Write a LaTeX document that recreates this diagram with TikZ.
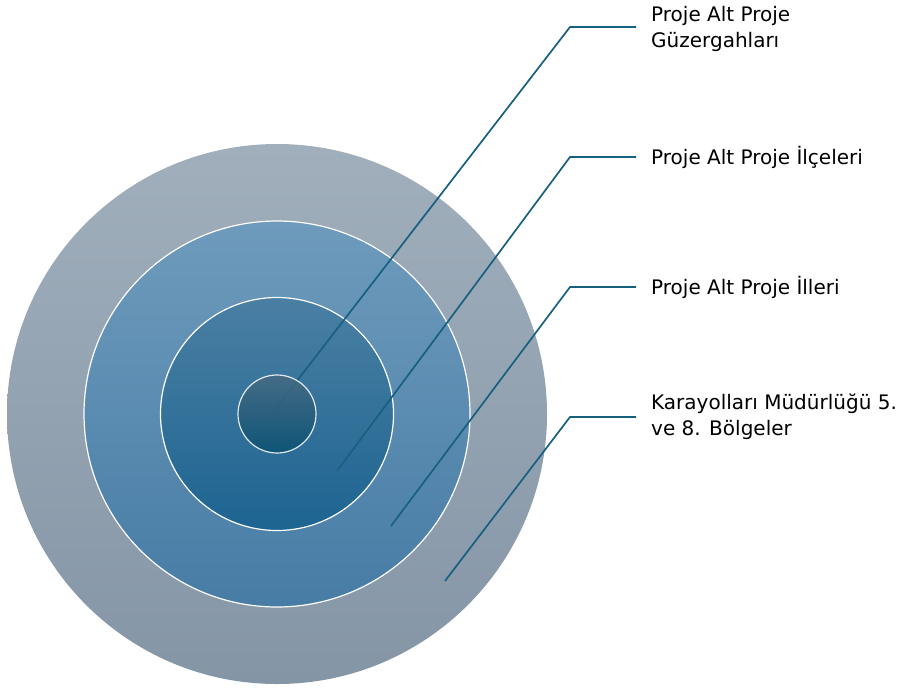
\documentclass[tikz,border=0pt]{standalone}
\usepackage{fontspec}
\setmainfont{DejaVu Sans}
\usepackage{xcolor}
\usepackage{tikz}
\usetikzlibrary{positioning}

\definecolor{ringAtop}{HTML}{A1AFBC}
\definecolor{ringAbot}{HTML}{8495A6}
\definecolor{ringBtop}{HTML}{6E9BBC}
\definecolor{ringBbot}{HTML}{477CA5}
\definecolor{ringCtop}{HTML}{4A7FA3}
\definecolor{ringCbot}{HTML}{1D6491}
\definecolor{ringDtop}{HTML}{476A82}
\definecolor{ringDbot}{HTML}{0A5171}
\definecolor{leader}{HTML}{18607F}

\begin{document}
\begin{tikzpicture}
  [
    x=1pt, y=-1pt,
    ring/.style={
       circle,
       inner sep=0pt,
       draw=white,
       line width=1.2pt
    },
    ld/.style={
       draw=leader,
       line width=1.7pt
    },
    lab/.style={
       anchor=west,
       inner xsep=15pt,
       inner ysep=0pt,
       align=left,
       font=\fontsize{20}{26}\selectfont
    }
  ]
  \useasboundingbox (0,0) rectangle (907,688);

  \node (ringA) at (277,414) [ring, draw=none, minimum size=540pt, top color=ringAtop, bottom color=ringAbot] {};
  \node (ringB) at (277,414) [ring, minimum size=386pt, top color=ringBtop, bottom color=ringBbot] {};
  \node (ringC) at (277,414) [ring, minimum size=233pt, top color=ringCtop, bottom color=ringCbot] {};

  \coordinate (p1) at (273,412);
  \coordinate (p2) at (337,471);
  \coordinate (p3) at (391,526);
  \coordinate (p4) at (445,581);
  \coordinate (k1) at (570,27);
  \coordinate (k2) at (570,157);
  \coordinate (k3) at (570,287);
  \coordinate (k4) at (570,417);

  \node (lab1) at (636,29)  [lab] {Proje Alt Proje\\Güzergahları};
  \node (lab2) at (636,157) [lab] {Proje Alt Proje İlçeleri};
  \node (lab3) at (636,287) [lab] {Proje Alt Proje İlleri};
  \node (lab4) at (636,417) [lab] {Karayolları Müdürlüğü 5.\\ve 8. Bölgeler};

  \draw [ld] (p1) -- (k1) -- (k1 -| lab1.west);
  \draw [ld] (p2) -- (k2) -- (lab2.west);
  \draw [ld] (p3) -- (k3) -- (lab3.west);
  \draw [ld] (p4) -- (k4) -- (k4 -| lab4.west);

  \node (ringD) at (277,414) [ring, minimum size=78pt, top color=ringDtop, bottom color=ringDbot, opacity=0.85] {};
\end{tikzpicture}
\end{document}
